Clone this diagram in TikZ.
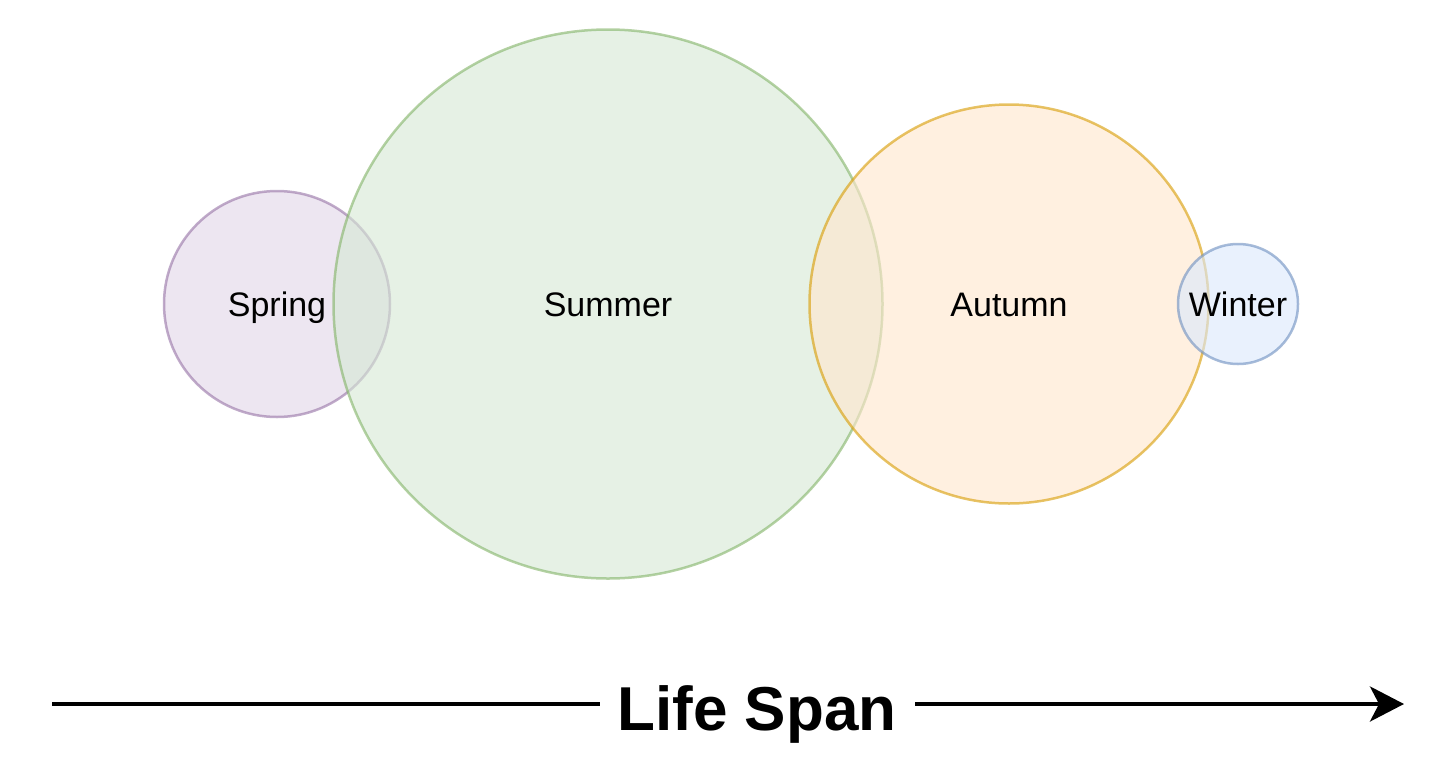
\documentclass[tikz,border=0pt]{standalone}
\usepackage{fontspec}
\setmainfont{Liberation Sans}
\usetikzlibrary{arrows.meta}
\definecolor{pfill}{HTML}{E1D5E7}\definecolor{pdraw}{HTML}{9673A6}
\definecolor{gfill}{HTML}{D5E8D4}\definecolor{gdraw}{HTML}{82B366}
\definecolor{ofill}{HTML}{FFE6CC}\definecolor{odraw}{HTML}{D79B00}
\definecolor{bfill}{HTML}{DAE8FC}\definecolor{bdraw}{HTML}{6C8EBF}
\tikzset{
  season/.style={circle, inner sep=0pt, line width=2.5pt, opacity=0.6, text opacity=1, font=\fontsize{34}{40}\selectfont, text height=24.5pt, text depth=0pt},
  axisline/.style={line width=4pt, black},
}
\begin{document}
\begin{tikzpicture}[x=1pt,y=-1pt]
\useasboundingbox (0,0) rectangle (1456,774);
\node[season, minimum size=226pt, fill=pfill, draw=pdraw] (spring) at (277,304) {Spring};
\node[season, minimum size=549pt, fill=gfill, draw=gdraw] (summer) at (608,304) {Summer};
\node[season, minimum size=399pt, fill=ofill, draw=odraw] (autumn) at (1009,304) {Autumn};
\node[season, minimum size=120pt, fill=bfill, draw=bdraw] (winter) at (1238,304) {Winter};
\node[font=\fontsize{62}{70}\selectfont\bfseries, inner sep=0pt, text height=44.6pt, text depth=0pt] (life) at (757,708.5) {Life Span};
\coordinate (start) at (52,704);
\coordinate (gapl) at (600,704);
\coordinate (gapr) at (915,704);
\coordinate (end) at (1404,704);
\draw[axisline] (start) -- (gapl);
\draw[axisline, -{Stealth[length=34pt,width=35pt,inset=9pt]}] (gapr) -- (end);
\end{tikzpicture}
\end{document}
